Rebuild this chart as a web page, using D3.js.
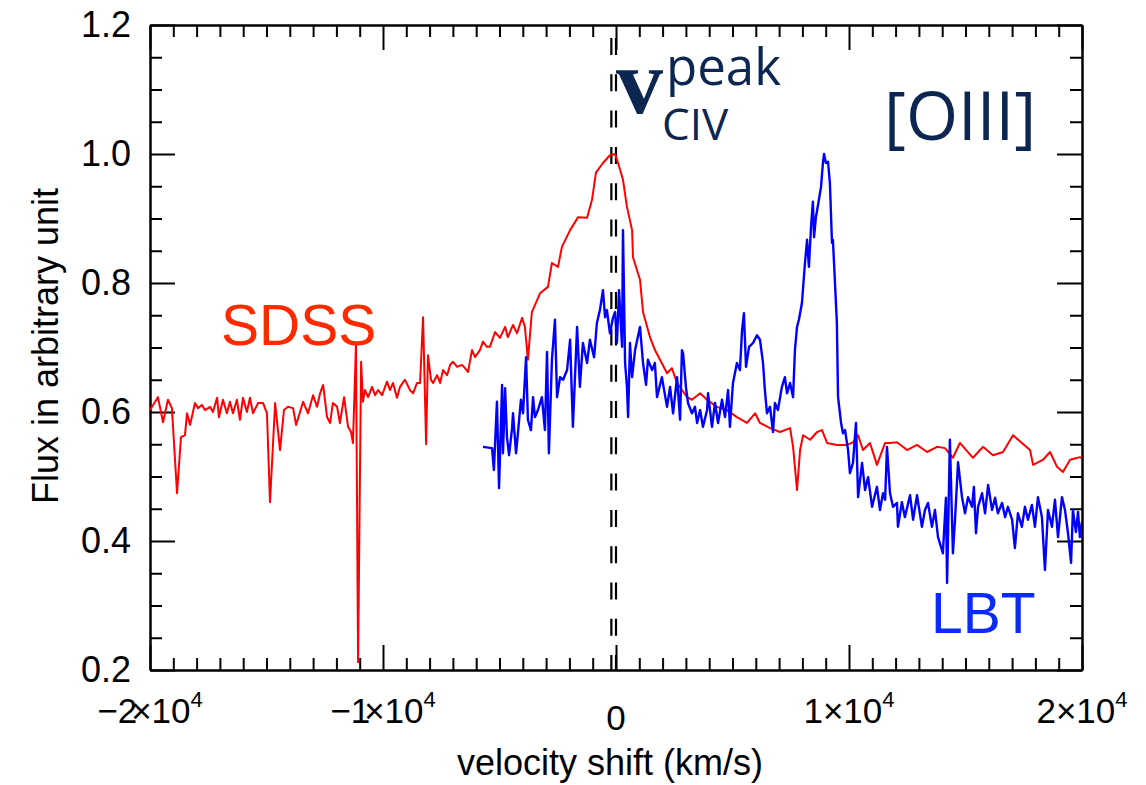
<!DOCTYPE html>
<html><head><meta charset="utf-8">
<script src="https://cdn.jsdelivr.net/npm/d3@7"></script>
<style>body{margin:0;background:#fff}svg{display:block}</style>
</head><body>
<svg id="c" width="1146" height="785"></svg>
<script>
// SDSS spectrum (velocity km/s, flux)
const sdssV=[-20000,-19660,-19440,-19230,-19060,-18840,-18670,-18500,-18410,-18280,-18070,-17940,-17770,-17640,-17420,-17300,-17120,-17040,-16870,-16700,-16570,-16440,-16270,-16140,-16010,-15840,-15710,-15580,-15360,-15150,-14980,-14850,-14630,-14420,-14250,-14080,-13860,-13730,-13560,-13430,-13220,-13000,-12830,-12700,-12570,-12400,-12270,-12150,-11970,-11850,-11670,-11500,-11370,-11290,-11160,-11070,-10940,-10860,-10770,-10640,-10470,-10340,-10210,-10040,-9830,-9700,-9570,-9400,-9270,-9060,-8840,-8710,-8540,-8410,-8280,-8150,-8070,-7940,-7850,-7680,-7550,-7420,-7250,-7120,-7000,-6820,-6610,-6480,-6350,-6180,-6050,-5840,-5710,-5540,-5410,-5190,-4980,-4760,-4640,-4420,-4250,-4030,-3910,-3780,-3610,-3260,-2920,-2750,-2490,-2320,-1970,-1630,-1240,-1030,-860,-560,-260,-40,90,300,470,690,730,1030,1160,1460,1670,1890,2190,2400,2620,3050,3260,3610,3910,4330,4760,5190,5620,5970,6180,6610,7040,7470,7600,7770,7900,8030,8330,8630,8840,9060,9480,9910,10170,10390,10600,10900,11200,11550,11760,12060,12490,12920,13350,13780,14120,14460,14760,15320,15750,16180,16610,17040,17420,17770,17900,18330,18630,18930,19180,19490,19910,20000];
const sdssF=[0.603,0.623,0.584,0.619,0.606,0.474,0.561,0.564,0.598,0.580,0.614,0.606,0.611,0.603,0.608,0.600,0.622,0.592,0.619,0.598,0.616,0.598,0.619,0.588,0.622,0.600,0.622,0.598,0.614,0.614,0.598,0.460,0.614,0.541,0.603,0.608,0.606,0.580,0.600,0.616,0.598,0.626,0.608,0.629,0.642,0.592,0.583,0.614,0.608,0.583,0.623,0.577,0.569,0.552,0.704,0.212,0.678,0.616,0.634,0.623,0.639,0.626,0.634,0.626,0.647,0.634,0.645,0.622,0.639,0.650,0.634,0.629,0.645,0.645,0.747,0.550,0.688,0.650,0.645,0.657,0.645,0.665,0.657,0.673,0.678,0.670,0.673,0.668,0.662,0.696,0.685,0.696,0.709,0.701,0.701,0.724,0.715,0.732,0.716,0.735,0.722,0.746,0.732,0.681,0.755,0.784,0.794,0.831,0.825,0.856,0.882,0.902,0.901,0.929,0.971,0.986,0.998,1.000,0.986,0.960,0.918,0.882,0.840,0.805,0.755,0.716,0.696,0.681,0.660,0.668,0.645,0.623,0.619,0.629,0.619,0.608,0.603,0.592,0.583,0.598,0.583,0.575,0.569,0.575,0.546,0.479,0.541,0.564,0.557,0.569,0.572,0.552,0.549,0.549,0.553,0.564,0.541,0.552,0.518,0.552,0.552,0.553,0.541,0.549,0.538,0.546,0.544,0.529,0.552,0.529,0.546,0.533,0.538,0.564,0.552,0.541,0.518,0.526,0.538,0.515,0.507,0.526,0.530,0.528];
// LBT spectrum (velocity km/s, flux)
const lbtV=[-5710,-5320,-5240,-5110,-5020,-4890,-4850,-4760,-4680,-4590,-4460,-4420,-4290,-4210,-4080,-3990,-3860,-3780,-3650,-3560,-3480,-3350,-3180,-3050,-2960,-2880,-2750,-2620,-2530,-2400,-2270,-2100,-1970,-1850,-1670,-1550,-1420,-1240,-1120,-940,-820,-690,-560,-470,-390,-260,-130,-40,40,130,260,300,390,470,520,600,690,820,1030,1160,1290,1370,1550,1670,1760,1970,2190,2320,2450,2620,2750,2830,2880,3000,3090,3260,3390,3480,3610,3730,3910,3950,4120,4250,4380,4550,4680,4810,4890,5020,5190,5320,5410,5490,5580,5710,5880,6050,6180,6310,6390,6480,6610,6740,6820,6950,7120,7250,7340,7470,7600,7680,7770,7850,7980,8110,8200,8280,8370,8450,8500,8580,8670,8800,8880,8930,9010,9100,9180,9270,9310,9480,9530,9660,9740,9830,9960,10040,10170,10300,10390,10560,10690,10820,10990,11200,11330,11460,11550,11630,11760,11890,12060,12100,12270,12400,12620,12750,12920,13130,13260,13390,13560,13690,13820,14030,14160,14210,14330,14460,14550,14680,14850,14980,15110,15280,15360,15450,15540,15710,15840,15970,16140,16270,16390,16570,16700,16820,17000,17120,17250,17420,17550,17680,17850,17980,18110,18280,18410,18540,18710,18840,18970,19140,19270,19400,19530,19610,19740,19830,19910,20000];
const lbtF=[0.546,0.544,0.510,0.616,0.482,0.642,0.536,0.637,0.561,0.533,0.575,0.598,0.536,0.567,0.619,0.598,0.685,0.588,0.572,0.623,0.592,0.603,0.623,0.572,0.693,0.536,0.681,0.743,0.623,0.654,0.650,0.665,0.712,0.577,0.732,0.639,0.707,0.676,0.712,0.685,0.738,0.758,0.789,0.747,0.758,0.722,0.746,0.755,0.707,0.789,0.701,0.882,0.676,0.639,0.592,0.707,0.654,0.696,0.732,0.676,0.642,0.681,0.665,0.676,0.623,0.654,0.608,0.639,0.598,0.654,0.588,0.696,0.691,0.639,0.614,0.598,0.608,0.583,0.603,0.577,0.603,0.629,0.577,0.614,0.583,0.619,0.592,0.634,0.577,0.645,0.676,0.665,0.727,0.753,0.670,0.701,0.707,0.719,0.712,0.676,0.634,0.598,0.608,0.569,0.614,0.603,0.639,0.654,0.629,0.645,0.623,0.696,0.732,0.743,0.769,0.831,0.867,0.825,0.887,0.926,0.871,0.902,0.921,0.949,0.986,1.000,0.986,0.988,0.955,0.862,0.867,0.738,0.623,0.583,0.567,0.572,0.541,0.505,0.521,0.583,0.468,0.521,0.479,0.499,0.453,0.484,0.448,0.474,0.464,0.546,0.474,0.453,0.459,0.422,0.460,0.437,0.471,0.433,0.471,0.422,0.448,0.459,0.422,0.448,0.406,0.381,0.467,0.335,0.557,0.381,0.433,0.522,0.468,0.443,0.468,0.453,0.484,0.412,0.453,0.474,0.443,0.487,0.448,0.467,0.443,0.459,0.437,0.453,0.433,0.389,0.443,0.422,0.453,0.433,0.456,0.422,0.468,0.437,0.355,0.448,0.422,0.464,0.406,0.468,0.448,0.412,0.366,0.448,0.414,0.445,0.406,0.430];

const xDomain=[-20000,20000];
const yDomain=[0.2,1.2];
const xMajor=[-20000,-10000,0,10000,20000];
const xMant=["\u22122","\u22121","0","1","2"];
const yMajor=[0.2,0.4,0.6,0.8,1.0,1.2];
const yLabels=["0.2","0.4","0.6","0.8","1.0","1.2"];
const markerV=[-200,0];

const L=150,R=1082,T=25,B=670;
const svg=d3.select("#c");
const x=d3.scaleLinear(xDomain,[L,R]);
const y=d3.scaleLinear(yDomain,[B,T]);
const font="'Liberation Sans', Arial, Helvetica, sans-serif";

svg.append("defs").append("clipPath").attr("id","clip")
  .append("rect").attr("x",L).attr("y",T).attr("width",R-L).attr("height",B-T);

const xMinor=d3.range(-20000,20001,1000).filter(v=>!xMajor.includes(v));
const yMinor=d3.range(0,21).map(i=>+(0.2+i*0.05).toFixed(2)).filter(v=>!yMajor.some(m=>Math.abs(m-v)<1e-9));

function styleAxis(g){
  g.selectAll("path,line").attr("stroke","#000").attr("stroke-width",2);
  g.selectAll("text").remove();
}
// minor ticks
svg.append("g").attr("transform",`translate(0,${B})`).call(d3.axisBottom(x).tickValues(xMinor).tickSize(-12).tickSizeOuter(0).tickFormat("")).call(styleAxis);
svg.append("g").attr("transform",`translate(0,${T})`).call(d3.axisTop(x).tickValues(xMinor).tickSize(-12).tickSizeOuter(0).tickFormat("")).call(styleAxis);
svg.append("g").attr("transform",`translate(${L},0)`).call(d3.axisLeft(y).tickValues(yMinor).tickSize(-12).tickSizeOuter(0).tickFormat("")).call(styleAxis);
svg.append("g").attr("transform",`translate(${R},0)`).call(d3.axisRight(y).tickValues(yMinor).tickSize(-12).tickSizeOuter(0).tickFormat("")).call(styleAxis);
// major ticks
svg.append("g").attr("transform",`translate(0,${B})`).call(d3.axisBottom(x).tickValues(xMajor).tickSize(-25).tickSizeOuter(0).tickFormat("")).call(styleAxis);
svg.append("g").attr("transform",`translate(0,${T})`).call(d3.axisTop(x).tickValues(xMajor).tickSize(-25).tickSizeOuter(0).tickFormat("")).call(styleAxis);
const yl=svg.append("g").attr("transform",`translate(${L},0)`).call(d3.axisLeft(y).tickValues(yMajor).tickSize(-25).tickSizeOuter(0).tickPadding(19).tickFormat((d,i)=>yLabels[i]));
yl.selectAll("path,line").attr("stroke","#000").attr("stroke-width",2);
yl.selectAll("text").attr("font-family",font).attr("font-size",36).attr("fill","#000");
svg.append("g").attr("transform",`translate(${R},0)`).call(d3.axisRight(y).tickValues(yMajor).tickSize(-25).tickSizeOuter(0).tickFormat("")).call(styleAxis);

// x tick labels
const xl=svg.append("g").attr("font-family",font).attr("fill","#000");
xMajor.forEach((v,i)=>{
  const t=xl.append("text").attr("x",x(v)).attr("text-anchor","middle").attr("font-size",35);
  if(v===0){ t.attr("y",730).text(xMant[i]); return; }
  t.attr("y",723);
  t.append("tspan").text(xMant[i]);
  t.append("tspan").attr("dx",xMant[i].startsWith("\u2212")?-6:0).text("\u00d710");
  t.append("tspan").attr("font-size",22).attr("dy",-16).text("4");
});

// axis titles
svg.append("text").attr("x",610).attr("y",775).attr("text-anchor","middle")
  .attr("font-family",font).attr("font-size",36).text("velocity shift (km/s)");
svg.append("text").attr("transform",`translate(58,346) rotate(-90)`).attr("text-anchor","middle")
  .attr("font-family",font).attr("font-size",36).text("Flux in arbitrary unit");

// marker dashed lines
svg.append("g").selectAll("line").data(markerV).join("line")
  .attr("x1",d=>x(d)).attr("x2",d=>x(d)).attr("y1",T).attr("y2",B)
  .attr("stroke","#000").attr("stroke-width",2.2).attr("stroke-dasharray","17,19.3").attr("stroke-dashoffset",23.3);

// spectra
const line=d3.line().x(d=>x(d[0])).y(d=>y(d[1]));
const plot=svg.append("g").attr("clip-path","url(#clip)");
plot.append("path").datum(d3.zip(sdssV,sdssF)).attr("d",line).attr("fill","none").attr("stroke","#ff0000").attr("stroke-width",2).attr("stroke-linejoin","round");
plot.append("path").datum(d3.zip(lbtV,lbtF)).attr("d",line).attr("fill","none").attr("stroke","#0000ff").attr("stroke-width",2.4).attr("stroke-linejoin","round");

// annotations
const navy="#0b2650";
const sans="'Open Sans','Noto Sans','DejaVu Sans',sans-serif";
const vt=svg.append("text").attr("fill",navy);
vt.append("tspan").attr("x",616).attr("y",113).attr("font-family","'Liberation Serif','DejaVu Serif',serif").attr("font-weight","bold").attr("font-size",94).text("v");
vt.append("tspan").attr("x",666).attr("y",85).attr("font-family",sans).attr("font-size",51).text("peak");
vt.append("tspan").attr("x",662).attr("y",140).attr("font-family",sans).attr("font-size",44).text("CIV");
svg.append("text").attr("x",884).attr("y",140).attr("font-family",sans).attr("font-size",67).attr("fill",navy).text("[OIII]");
svg.append("text").attr("x",221).attr("y",345).attr("font-family",font).attr("font-size",57).attr("fill","#ff2a00").text("SDSS");
svg.append("text").attr("x",931).attr("y",633).attr("font-family",font).attr("font-size",57).attr("fill","#0a2aff").text("LBT");
</script>
</body></html>
